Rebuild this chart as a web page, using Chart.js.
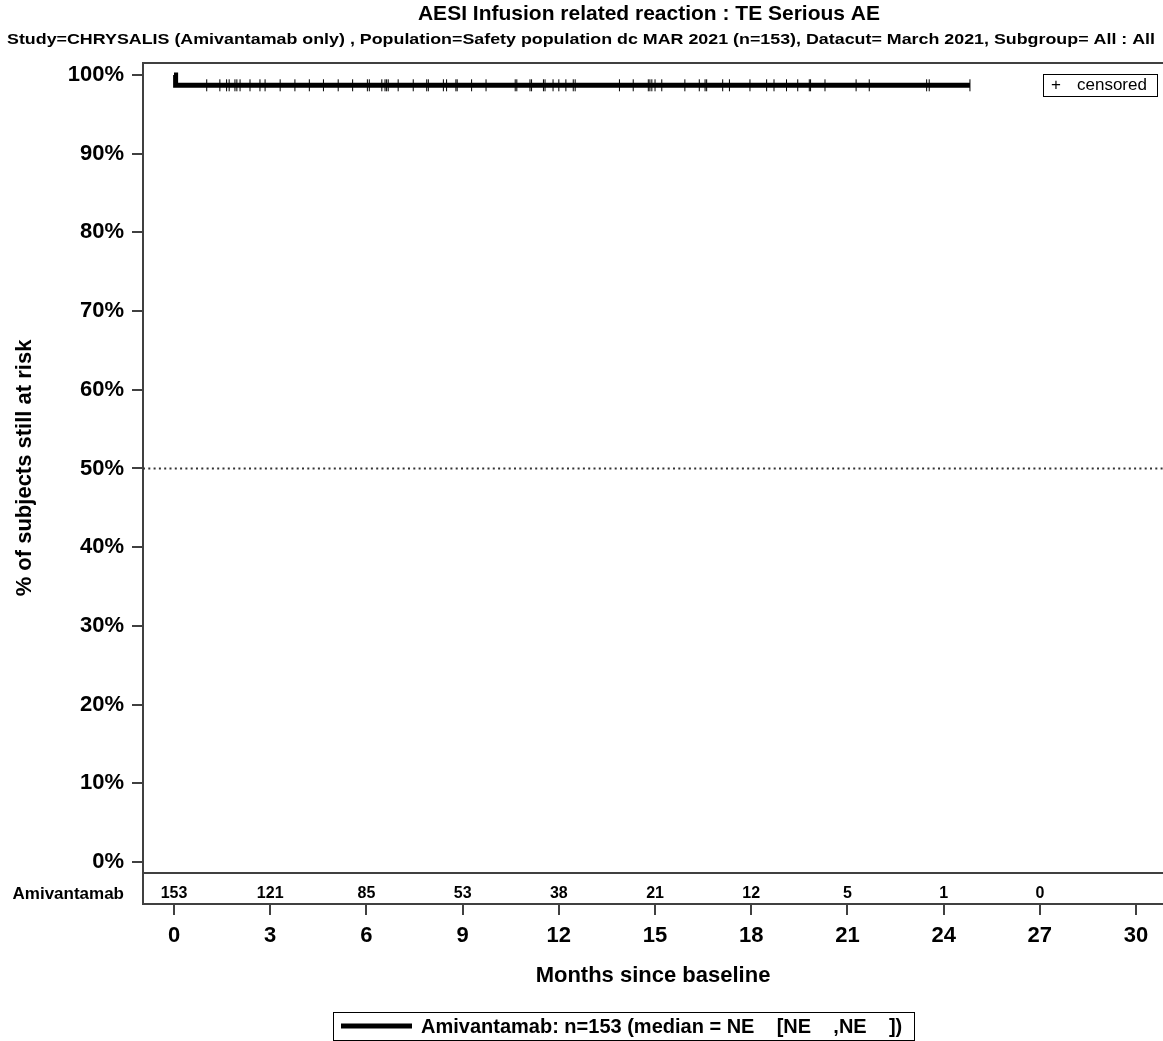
<!DOCTYPE html>
<html>
<head>
<meta charset="utf-8">
<title>AESI Infusion related reaction</title>
<script src="https://cdn.jsdelivr.net/npm/chart.js@4/dist/chart.umd.min.js"></script>
<style>
  html, body { margin: 0; padding: 0; background: #fff; }
  canvas { display: block; }
</style>
</head>
<body>
<canvas id="km" width="1163" height="1041"></canvas>
<script>
// Kaplan-Meier curve: time (months) and % still at risk
const curveMonths = [0, 0.05, 24.82];
const curvePct = [100, 98.69, 98.69];

// censored subjects (months)
const censorMonths = [
  1.02, 1.43, 1.64, 1.72, 1.90, 1.96, 2.06, 2.37, 2.68, 2.84, 3.31, 3.77,
  4.22, 4.66, 5.12, 5.57, 6.03, 6.09, 6.48, 6.58, 6.63, 6.68, 6.99, 7.46,
  7.88, 7.93, 8.40, 8.50, 8.79, 8.83, 9.28, 9.73, 10.64, 10.69, 11.10, 11.15,
  11.52, 11.57, 11.82, 12.00, 12.22, 12.45, 12.51, 13.89, 14.32, 14.79, 14.84,
  14.90, 15.00, 15.21, 15.93, 16.38, 16.56, 16.61, 17.11, 17.32, 17.96, 18.48,
  18.71, 19.10, 19.45, 19.81, 19.85, 20.30, 21.27, 21.68, 23.47, 23.55, 24.82
];

// numbers at risk
const riskMonths = [0, 3, 6, 9, 12, 15, 18, 21, 24, 27];
const riskCounts = [153, 121, 85, 53, 38, 21, 12, 5, 1, 0];

const xTickValues = [0, 3, 6, 9, 12, 15, 18, 21, 24, 27, 30];
const yTickValues = [0, 10, 20, 30, 40, 50, 60, 70, 80, 90, 100];

const xMin = -0.967, xMax = 30.84;
const yMin = -5.337, yMax = 101.525;
const riskRowTop = -1.4;   // frame line between plot and at-risk row
const medianPct = 50;

const FONT = "'Liberation Sans', Arial, Helvetica, sans-serif";
const FRAME = '#404040';

function stepAt(t) {
  let v = curvePct[0];
  for (let i = 0; i < curveMonths.length; i++) {
    if (curveMonths[i] <= t) v = curvePct[i];
  }
  return v;
}

// draw text squeezed/stretched to a given width, centred on cx
function fitText(ctx, text, cx, cy, width) {
  const w = ctx.measureText(text).width;
  ctx.save();
  ctx.translate(cx, cy);
  ctx.scale(width / w, 1);
  ctx.textAlign = 'center';
  ctx.fillText(text, 0, 0);
  ctx.restore();
}

const kmDecor = {
  id: 'kmDecor',
  afterDraw(chart) {
    const { ctx, chartArea: area, scales: { x, y } } = chart;
    ctx.save();

    // top frame and line above the at-risk row
    ctx.strokeStyle = FRAME;
    ctx.lineWidth = 2;
    ctx.beginPath();
    ctx.moveTo(area.left, area.top);
    ctx.lineTo(area.right, area.top);
    const yr = Math.round(y.getPixelForValue(riskRowTop));
    ctx.moveTo(area.left, yr);
    ctx.lineTo(area.right, yr);
    ctx.stroke();

    // titles
    ctx.fillStyle = '#000';
    ctx.textBaseline = 'middle';
    ctx.textAlign = 'center';
    ctx.font = 'bold 21px ' + FONT;
    ctx.fillText('AESI Infusion related reaction : TE Serious AE', 649, 14);
    ctx.font = 'bold 15px ' + FONT;
    fitText(ctx, 'Study=CHRYSALIS (Amivantamab only) , Population=Safety population dc MAR 2021 (n=153), Datacut= March 2021, Subgroup= All : All', 581, 40, 1148);

    // y axis title
    ctx.save();
    ctx.translate(25, (area.top + yr) / 2);
    ctx.rotate(-Math.PI / 2);
    ctx.font = 'bold 22px ' + FONT;
    ctx.fillText('% of subjects still at risk', 0, 0);
    ctx.restore();

    // at-risk row
    const rowY = yr + 21;
    ctx.font = 'bold 17px ' + FONT;
    ctx.textAlign = 'right';
    ctx.fillText('Amivantamab', 124, rowY);
    ctx.font = 'bold 16px ' + FONT;
    ctx.textAlign = 'center';
    riskMonths.forEach((m, i) => {
      ctx.fillText(String(riskCounts[i]), x.getPixelForValue(m), rowY);
    });

    // censored key
    ctx.lineWidth = 1;
    ctx.strokeStyle = '#000';
    ctx.strokeRect(1043.5, 74.5, 114, 22);
    ctx.font = '17px ' + FONT;
    ctx.textAlign = 'left';
    ctx.fillText('+', 1051, 85);
    ctx.fillText('censored', 1077, 85);

    // series key
    ctx.strokeRect(333.5, 1012.5, 581, 28);
    ctx.lineWidth = 5;
    ctx.beginPath();
    ctx.moveTo(341, 1026);
    ctx.lineTo(412, 1026);
    ctx.stroke();
    ctx.font = 'bold 20px ' + FONT;
    ctx.fillText('Amivantamab: n=153 (median = NE    [NE    ,NE    ])', 421, 1027);

    ctx.restore();
  }
};

new Chart(document.getElementById('km'), {
  data: {
    datasets: [
      {
        type: 'line',
        label: 'median',
        data: [{ x: xMin, y: medianPct }, { x: xMax, y: medianPct }],
        borderColor: '#333',
        borderWidth: 2,
        borderDash: [2, 3.3],
        pointRadius: 0,
        order: 3
      },
      {
        type: 'line',
        label: 'Amivantamab',
        data: curveMonths.map((t, i) => ({ x: t, y: curvePct[i] })),
        stepped: 'before',
        borderColor: '#000',
        borderWidth: 5,
        borderCapStyle: 'butt',
        pointRadius: 0,
        order: 2
      },
      {
        type: 'scatter',
        label: 'censored',
        data: censorMonths.map(t => ({ x: t, y: stepAt(t) })),
        pointStyle: 'line',
        rotation: 90,
        radius: 6,
        borderWidth: 1,
        borderColor: '#000',
        backgroundColor: '#000',
        order: 1
      }
    ]
  },
  options: {
    responsive: false,
    devicePixelRatio: 1,
    animation: false,
    layout: { autoPadding: false, padding: { top: 63, left: 0, right: 0, bottom: 0 } },
    plugins: {
      legend: { display: false },
      tooltip: { enabled: false }
    },
    scales: {
      x: {
        type: 'linear',
        position: 'bottom',
        min: xMin,
        max: xMax,
        afterBuildTicks: s => { s.ticks = xTickValues.map(v => ({ value: v })); },
        afterFit: s => { s.height = 137; },
        grid: { drawOnChartArea: false, drawTicks: true, tickLength: 11, color: FRAME, lineWidth: 2 },
        border: { display: true, color: FRAME, width: 2 },
        ticks: { color: '#000', padding: 8, maxRotation: 0, font: { family: FONT, size: 22, weight: 'bold' } },
        title: {
          display: true,
          text: 'Months since baseline',
          color: '#000',
          font: { family: FONT, size: 22, weight: 'bold' },
          padding: { top: 0, bottom: 52 }
        }
      },
      y: {
        type: 'linear',
        min: yMin,
        max: yMax,
        afterBuildTicks: s => { s.ticks = yTickValues.map(v => ({ value: v })); },
        afterFit: s => { s.width = 143; },
        grid: { drawOnChartArea: false, drawTicks: true, tickLength: 11, color: FRAME, lineWidth: 2 },
        border: { display: true, color: FRAME, width: 2 },
        ticks: {
          color: '#000',
          padding: 8,
          font: { family: FONT, size: 22, weight: 'bold' },
          callback: v => v + '%'
        }
      }
    }
  },
  plugins: [kmDecor]
});
</script>
</body>
</html>
